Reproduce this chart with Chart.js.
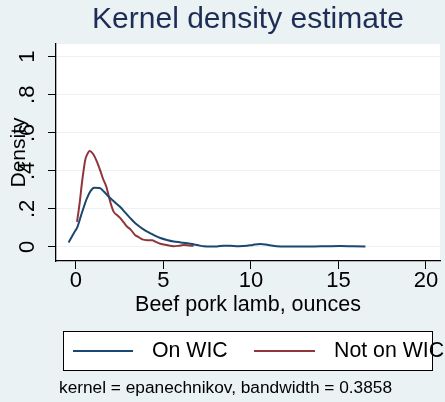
<!DOCTYPE html>
<html>
<head>
<meta charset="utf-8">
<script src="https://cdn.jsdelivr.net/npm/chart.js@4.4.1/dist/chart.umd.min.js"></script>
<style>
  html, body { margin: 0; padding: 0; background: #EAF2F3; }
  #wrap { width: 445px; height: 402px; }
</style>
</head>
<body>
<div id="wrap"><canvas id="c" width="445" height="402"></canvas></div>
<script>
// Kernel density of beef/pork/lamb intake (ounces), by WIC status
const onWicX = [-0.41, -0.03, 0.07, 0.35, 0.64, 0.85, 1.05, 1.36, 1.6, 1.87, 2.2, 2.54, 2.8, 3.11, 3.4, 3.69, 4.0, 4.26, 4.55, 4.83, 5.2, 5.59, 6.0, 6.54, 7.0, 7.3, 7.7, 8.07, 8.45, 8.83, 9.3, 9.78, 10.1, 10.54, 11.0, 11.69, 12.5, 13.6, 14.3, 15.1, 15.8, 16.54];
const onWicY = [0.024, 0.085, 0.10, 0.18, 0.257, 0.295, 0.311, 0.31, 0.292, 0.265, 0.238, 0.21, 0.183, 0.152, 0.125, 0.104, 0.085, 0.072, 0.058, 0.047, 0.037, 0.029, 0.024, 0.017, 0.009, 0.004, 0.002, 0.003, 0.007, 0.006, 0.004, 0.006, 0.011, 0.016, 0.01, 0.003, 0.002, 0.003, 0.004, 0.005, 0.004, 0.003];

const notWicX = [0.07, 0.22, 0.35, 0.45, 0.54, 0.64, 0.79, 0.98, 1.2, 1.4, 1.55, 1.74, 1.97, 2.16, 2.35, 2.54, 2.75, 2.92, 3.11, 3.4, 3.59, 3.8, 4.07, 4.35, 4.6, 4.83, 5.2, 5.59, 5.9, 6.16, 6.45, 6.73];
const notWicY = [0.132, 0.23, 0.336, 0.405, 0.458, 0.484, 0.505, 0.49, 0.45, 0.401, 0.36, 0.318, 0.237, 0.186, 0.168, 0.152, 0.128, 0.108, 0.094, 0.062, 0.052, 0.04, 0.036, 0.036, 0.026, 0.017, 0.01, 0.004, 0.007, 0.01, 0.008, 0.006];

const seriesNames = ['On WIC', 'Not on WIC'];
const seriesColors = ['rgb(26,71,111)', 'rgb(144,53,59)'];

const xTickValues = [0, 5, 10, 15, 20];
const xTickLabels = ['0', '5', '10', '15', '20'];
const yTickValues = [0, 0.2, 0.4, 0.6, 0.8, 1];
const yTickLabels = ['0', '.2', '.4', '.6', '.8', '1'];

const chartTitle = 'Kernel density estimate';
const xTitle = 'Beef pork lamb, ounces';
const yTitle = 'Density';
const noteText = 'kernel = epanechnikov, bandwidth = 0.3858';

const FONT = '"Liberation Sans", Arial, Helvetica, sans-serif';
const BG = 'rgb(234,242,243)';

function toPoints(xs, ys) {
  return xs.map((x, i) => ({ x: x, y: ys[i] }));
}

// graph background and white plot region
const backgroundPlugin = {
  id: 'stataBackground',
  beforeDraw(chart) {
    const { ctx, chartArea: a } = chart;
    ctx.save();
    ctx.fillStyle = BG;
    ctx.fillRect(0, 0, chart.width, chart.height);
    ctx.fillStyle = '#ffffff';
    ctx.fillRect(a.left, a.top, a.right - a.left, a.bottom - a.top);
    ctx.restore();
  }
};

// boxed legend below the axis title, plus the kernel note
const legendNotePlugin = {
  id: 'legendNote',
  afterDraw(chart) {
    const ctx = chart.ctx;
    const box = { left: 63, top: 331, right: 433, bottom: 371 };
    const midY = (box.top + box.bottom) / 2;
    const items = [
      { x0: 73, x1: 133, tx: 152 },
      { x0: 254, x1: 315, tx: 334 }
    ];
    ctx.save();
    ctx.fillStyle = '#ffffff';
    ctx.fillRect(box.left, box.top, box.right - box.left, box.bottom - box.top);
    chart.data.datasets.forEach((ds, i) => {
      const it = items[i];
      ctx.strokeStyle = ds.borderColor;
      ctx.lineWidth = 2;
      ctx.beginPath();
      ctx.moveTo(it.x0, midY);
      ctx.lineTo(it.x1, midY);
      ctx.stroke();
      ctx.fillStyle = '#000000';
      ctx.font = '21.3px ' + FONT;
      ctx.textAlign = 'left';
      ctx.textBaseline = 'middle';
      ctx.fillText(ds.label, it.tx, midY);
    });
    ctx.strokeStyle = '#000000';
    ctx.lineWidth = 1;
    ctx.strokeRect(box.left + 0.5, box.top + 0.5, box.right - box.left - 1, box.bottom - box.top - 1);
    ctx.fillStyle = '#000000';
    ctx.font = '17.3px ' + FONT;
    ctx.textAlign = 'left';
    ctx.textBaseline = 'middle';
    ctx.fillText(noteText, 59, 388);
    ctx.restore();
  }
};

new Chart(document.getElementById('c'), {
  type: 'line',
  data: {
    datasets: [
      { label: seriesNames[0], data: toPoints(onWicX, onWicY), borderColor: seriesColors[0], backgroundColor: seriesColors[0] },
      { label: seriesNames[1], data: toPoints(notWicX, notWicY), borderColor: seriesColors[1], backgroundColor: seriesColors[1] }
    ]
  },
  options: {
    responsive: false,
    devicePixelRatio: 1,
    animation: false,
    parsing: false,
    elements: {
      line: { borderWidth: 2, tension: 0.35, cubicInterpolationMode: 'monotone', fill: false },
      point: { radius: 0, hoverRadius: 0 }
    },
    layout: { padding: { left: 0, right: 5, top: 0, bottom: 86 } },
    plugins: {
      legend: { display: false },
      tooltip: { enabled: false },
      title: {
        display: true,
        fullSize: false,
        text: chartTitle,
        color: 'rgb(30,45,85)',
        font: { family: FONT, size: 30, weight: 'normal', lineHeight: 1 },
        padding: { top: 5, bottom: 9 }
      }
    },
    scales: {
      x: {
        type: 'linear',
        min: -1.13,
        max: 20.8,
        afterBuildTicks(scale) { scale.ticks = xTickValues.map(v => ({ value: v })); },
        afterFit(scale) { scale.height = 55; },
        ticks: {
          includeBounds: false,
          autoSkip: false,
          maxRotation: 0,
          padding: 1,
          color: '#000000',
          font: { family: FONT, size: 22, lineHeight: 1 },
          callback(value) { return xTickLabels[xTickValues.indexOf(value)]; }
        },
        grid: { display: true, drawOnChartArea: false, tickLength: 8, tickColor: '#000000', tickWidth: 1 },
        border: { display: true, color: '#000000', width: 1.3 },
        title: {
          display: true,
          text: xTitle,
          color: '#000000',
          font: { family: FONT, size: 21.5, lineHeight: 1 },
          padding: { top: 0, bottom: 0 }
        }
      },
      y: {
        type: 'linear',
        min: -0.0736,
        max: 1.067,
        afterBuildTicks(scale) { scale.ticks = yTickValues.map(v => ({ value: v })); },
        afterFit(scale) { scale.width = 56; },
        ticks: {
          includeBounds: false,
          autoSkip: false,
          minRotation: 90,
          maxRotation: 90,
          crossAlign: 'center',
          padding: 11,
          color: '#000000',
          font: { family: FONT, size: 22, lineHeight: 1 },
          callback(value) { return yTickLabels[yTickValues.indexOf(value)]; }
        },
        grid: { display: true, drawOnChartArea: true, color: 'rgb(234,242,243)', lineWidth: 1, tickLength: 8, tickColor: '#000000', tickWidth: 1 },
        border: { display: true, color: '#000000', width: 1.3 },
        title: {
          display: true,
          text: yTitle,
          color: '#000000',
          font: { family: FONT, size: 21, lineHeight: 1 },
          padding: { top: 9, bottom: 0 }
        }
      }
    }
  },
  plugins: [backgroundPlugin, legendNotePlugin]
});
</script>
</body>
</html>
